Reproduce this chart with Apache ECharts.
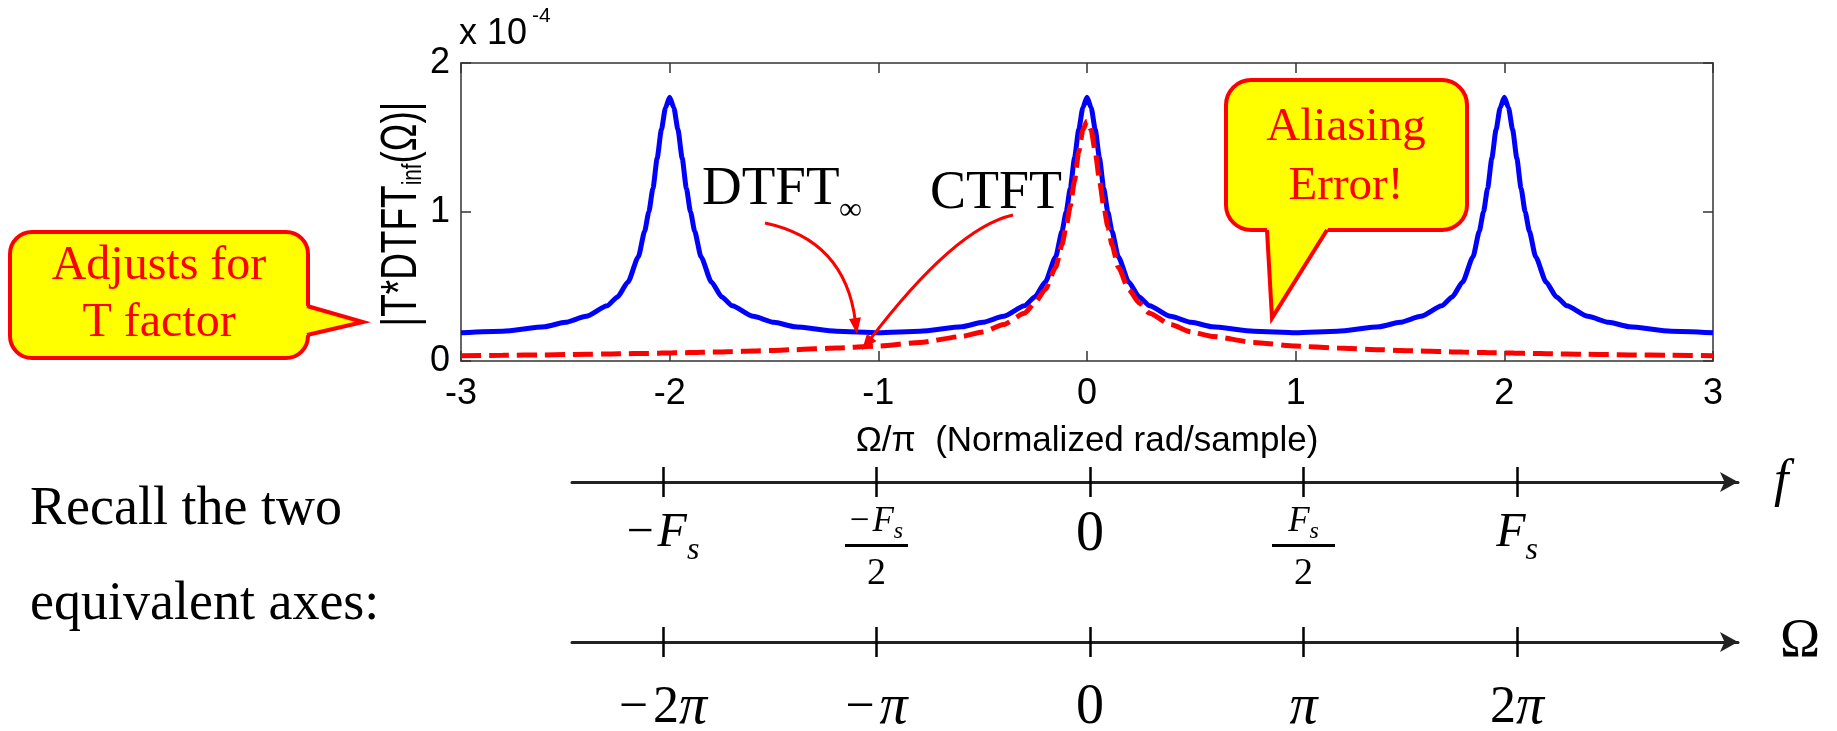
<!DOCTYPE html>
<html><head><meta charset="utf-8">
<script src="https://cdn.jsdelivr.net/npm/echarts@6/dist/echarts.min.js"></script>
<style>html,body{margin:0;padding:0;background:#fff}#c{width:1837px;height:731px}</style>
</head><body><div id="c"></div>
<script>
// ---------------- data ----------------
const omega = [
  -3, -2.8, -2.6, -2.5, -2.4, -2.3, -2.25, -2.2, -2.15, -2.12, -2.1, -2.08, -2.06, -2.04, -2.02,
  -2,
  -1.98, -1.96, -1.94, -1.92, -1.9, -1.88, -1.85, -1.8, -1.75, -1.7, -1.6, -1.5, -1.4, -1.2,
  -1,
  -0.8, -0.6, -0.5, -0.4, -0.3, -0.25, -0.2, -0.15, -0.12, -0.1, -0.08, -0.06, -0.04, -0.02,
  0,
  0.02, 0.04, 0.06, 0.08, 0.1, 0.12, 0.15, 0.2, 0.25, 0.3, 0.4, 0.5, 0.6, 0.8,
  1,
  1.2, 1.4, 1.5, 1.6, 1.7, 1.75, 1.8, 1.85, 1.88, 1.9, 1.92, 1.94, 1.96, 1.98,
  2,
  2.02, 2.04, 2.06, 2.08, 2.1, 2.12, 2.15, 2.2, 2.25, 2.3, 2.4, 2.5, 2.6, 2.8,
  3
];
// |T*DTFT_inf| (x 1e-4), blue
const dtft = [
  0.19, 0.20, 0.23, 0.26, 0.30, 0.37, 0.43, 0.53, 0.70, 0.87, 1.00, 1.16, 1.36, 1.55, 1.70,
  1.77,
  1.70, 1.55, 1.36, 1.16, 1.00, 0.87, 0.70, 0.53, 0.43, 0.37, 0.30, 0.26, 0.23, 0.20,
  0.19,
  0.20, 0.23, 0.26, 0.30, 0.37, 0.43, 0.53, 0.70, 0.87, 1.00, 1.16, 1.36, 1.55, 1.70,
  1.77,
  1.70, 1.55, 1.36, 1.16, 1.00, 0.87, 0.70, 0.53, 0.43, 0.37, 0.30, 0.26, 0.23, 0.20,
  0.19,
  0.20, 0.23, 0.26, 0.30, 0.37, 0.43, 0.53, 0.70, 0.87, 1.00, 1.16, 1.36, 1.55, 1.70,
  1.77,
  1.70, 1.55, 1.36, 1.16, 1.00, 0.87, 0.70, 0.53, 0.43, 0.37, 0.30, 0.26, 0.23, 0.20,
  0.19
];
// CTFT (x 1e-4), red dashed
const ctft = [
  0.036, 0.038, 0.041, 0.043, 0.045, 0.047, 0.048, 0.049, 0.050, 0.051, 0.051, 0.052, 0.052, 0.053, 0.053,
  0.054,
  0.055, 0.055, 0.056, 0.056, 0.057, 0.057, 0.058, 0.060, 0.061, 0.063, 0.067, 0.071, 0.076, 0.087,
  0.100,
  0.125, 0.165, 0.195, 0.245, 0.32, 0.39, 0.48, 0.63, 0.78, 0.90, 1.04, 1.21, 1.40, 1.55,
  1.61,
  1.55, 1.40, 1.21, 1.04, 0.90, 0.78, 0.63, 0.48, 0.39, 0.32, 0.245, 0.195, 0.165, 0.125,
  0.100,
  0.087, 0.076, 0.071, 0.067, 0.063, 0.061, 0.060, 0.058, 0.057, 0.057, 0.056, 0.056, 0.055, 0.055,
  0.054,
  0.053, 0.053, 0.052, 0.052, 0.051, 0.051, 0.050, 0.049, 0.048, 0.047, 0.045, 0.043, 0.041, 0.038,
  0.036
];
const xAxisName = 'Ω/π  (Normalized rad/sample)';
const yAxisNameParts = ['|T*DTFT', 'inf', '(Ω)|'];
const yScaleText = ['x 10', '-4'];
const fTickValues = [-2, -1, 0, 1, 2];
const fTickLabels = ['−F_s', '−F_s/2', '0', 'F_s/2', 'F_s'];
const omegaTickValues = [-2, -1, 0, 1, 2];
const omegaTickLabels = ['−2π', '−π', '0', 'π', '2π'];
const fAxisName = 'f';
const omegaAxisName = 'Ω';
const noteLeft = ['Recall the two', 'equivalent axes:'];
const calloutT = ['Adjusts for', 'T factor'];
const calloutAlias = ['Aliasing', 'Error!'];
const labelDTFT = ['DTFT', '∞'];
const labelCTFT = 'CTFT';

// ---------------- styling ----------------
const SANS = '"Liberation Sans", Arial, sans-serif';
const SERIF = '"Liberation Serif", "Times New Roman", serif';
const BOX = '#333';
const RED = '#FF0000', YEL = '#FFFF00';

function fRich(lbl) {
  if (lbl === '0') return '{z|0}';
  const frac = lbl.endsWith('/2');
  const core = frac ? lbl.slice(0, -2) : lbl;
  const neg = core.startsWith('−');
  const rest = neg ? core.slice(1) : core;
  const [main, sub] = rest.split('_');
  if (!frac) return (neg ? '{m|−}' : '') + '{it|' + main + '}{sub|' + sub + '}';
  return (neg ? '{fm|−}' : '') + '{fit|' + main + '}{fsub|' + sub + '}\n{bar| }\n{fd|2}';
}
function oRich(lbl) {
  if (lbl === '0') return '{z|0}';
  let s = '';
  for (const ch of lbl) {
    if (ch === '−') s += '{m|−}';
    else if (ch === 'π') s += '{p|π}';
    else s += '{d|' + ch + '}';
  }
  return s;
}
const fRichStyles = {
  m: {fontFamily: SERIF, fontSize: 48, lineHeight: 68, verticalAlign: 'middle', color: '#000', padding: [0, 4, 0, 0]},
  it: {fontFamily: SERIF, fontStyle: 'italic', fontSize: 48, lineHeight: 68, verticalAlign: 'middle', color: '#000'},
  sub: {fontFamily: SERIF, fontStyle: 'italic', fontSize: 32, lineHeight: 34, verticalAlign: 'bottom', color: '#000'},
  z: {fontFamily: SERIF, fontSize: 56, lineHeight: 72, verticalAlign: 'middle', color: '#000'},
  fm: {fontFamily: SERIF, fontSize: 35, lineHeight: 45, verticalAlign: 'middle', color: '#000', padding: [0, 3, 0, 0]},
  fit: {fontFamily: SERIF, fontStyle: 'italic', fontSize: 35, lineHeight: 45, verticalAlign: 'middle', color: '#000'},
  fsub: {fontFamily: SERIF, fontStyle: 'italic', fontSize: 24, lineHeight: 18, verticalAlign: 'bottom', color: '#000'},
  bar: {width: 63, height: 3, lineHeight: 3, fontSize: 3, backgroundColor: '#000'},
  fd: {fontFamily: SERIF, fontSize: 38, lineHeight: 55, verticalAlign: 'middle', color: '#000'}
};
const oRichStyles = {
  m: {fontFamily: SERIF, fontSize: 52, lineHeight: 64, verticalAlign: 'middle', color: '#000', padding: [0, 5, 0, 0]},
  d: {fontFamily: SERIF, fontSize: 52, lineHeight: 64, verticalAlign: 'middle', color: '#000'},
  p: {fontFamily: SERIF, fontStyle: 'italic', fontSize: 56, lineHeight: 64, verticalAlign: 'middle', color: '#000'},
  z: {fontFamily: SERIF, fontSize: 56, lineHeight: 64, verticalAlign: 'middle', color: '#000'}
};

function lowerAxes(gridIndex, values, labels, richFn, rich, margin, name, nameStyle, nameGap) {
  const min = -2.426, max = 3.035;
  return [
    {
      gridIndex, type: 'value', position: 'bottom', min, max,
      axisLine: {show: true, onZero: false, symbol: ['none', 'arrow'], symbolSize: [15, 18],
        lineStyle: {color: '#222', width: 3}},
      axisTick: {show: true, inside: false, length: 15, customValues: values, lineStyle: {color: '#000', width: 2.5}},
      axisLabel: {show: true, customValues: values, margin,
        formatter: (v) => richFn(labels[values.indexOf(v)]), rich},
      splitLine: {show: false},
      name, nameLocation: 'end', nameGap, nameTextStyle: nameStyle
    },
    {
      gridIndex, type: 'value', position: 'bottom', min, max,
      axisLine: {show: false},
      axisTick: {show: true, inside: true, length: 15, customValues: values, lineStyle: {color: '#000', width: 2.5}},
      axisLabel: {show: false},
      splitLine: {show: false}
    }
  ];
}

function arrowEls(p0, c, p2, headLen, headHalf) {
  const dx = p2[0] - c[0], dy = p2[1] - c[1];
  const L = Math.hypot(dx, dy), ux = dx / L, uy = dy / L;
  const base = [p2[0] - ux * headLen, p2[1] - uy * headLen];
  const end = [p2[0] - ux * (headLen - 3), p2[1] - uy * (headLen - 3)];
  return [
    {type: 'bezierCurve', z: 100, shape: {x1: p0[0], y1: p0[1], cpx1: c[0], cpy1: c[1], x2: end[0], y2: end[1]},
      style: {stroke: RED, lineWidth: 3, fill: 'none'}},
    {type: 'polygon', z: 100, shape: {points: [p2, [base[0] - uy * headHalf, base[1] + ux * headHalf], [base[0] + uy * headHalf, base[1] - ux * headHalf]]},
      style: {fill: RED}}
  ];
}

const chart = echarts.init(document.getElementById('c'));
const option = {
  animation: false,
  backgroundColor: '#fff',
  grid: [
    {left: 461, right: 124, top: 63, bottom: 370, outerBoundsMode: 'none'},
    {left: 572, right: 99, top: 420, height: 62, outerBoundsMode: 'none'},
    {left: 572, right: 99, top: 580, height: 62, outerBoundsMode: 'none'}
  ],
  xAxis: [
    {
      gridIndex: 0, type: 'value', position: 'bottom', min: -3, max: 3, interval: 1,
      axisLine: {show: true, onZero: false, lineStyle: {color: BOX, width: 1.5}},
      axisTick: {show: true, inside: true, length: 10, lineStyle: {color: BOX, width: 1.5}},
      axisLabel: {show: true, margin: 15, fontSize: 36, fontFamily: SANS, color: '#000'},
      splitLine: {show: false},
      name: xAxisName, nameLocation: 'middle', nameGap: 63,
      nameTextStyle: {fontSize: 35, fontFamily: SANS, color: '#000'}
    },
    {
      gridIndex: 0, type: 'value', position: 'top', min: -3, max: 3, interval: 1,
      axisLine: {show: true, onZero: false, lineStyle: {color: BOX, width: 1.5}},
      axisTick: {show: true, inside: true, length: 10, lineStyle: {color: BOX, width: 1.5}},
      axisLabel: {show: false}, splitLine: {show: false}
    },
    ...lowerAxes(1, fTickValues, fTickLabels, fRich, fRichStyles, 17, fAxisName,
      {fontFamily: SERIF, fontStyle: 'italic', fontSize: 52, color: '#000'}, 36),
    ...lowerAxes(2, omegaTickValues, omegaTickLabels, oRich, oRichStyles, 34, omegaAxisName,
      {fontFamily: SERIF, fontSize: 54, color: '#000'}, 42)
  ],
  yAxis: [
    {
      gridIndex: 0, type: 'value', position: 'left', min: 0, max: 2, interval: 1,
      axisLine: {show: true, onZero: false, lineStyle: {color: BOX, width: 1.5}},
      axisTick: {show: true, inside: true, length: 10, lineStyle: {color: BOX, width: 1.5}},
      axisLabel: {show: true, margin: 11, fontSize: 36, fontFamily: SANS, color: '#000'},
      splitLine: {show: false}
    },
    {
      gridIndex: 0, type: 'value', position: 'right', min: 0, max: 2, interval: 1,
      axisLine: {show: true, onZero: false, lineStyle: {color: BOX, width: 1.5}},
      axisTick: {show: true, inside: true, length: 10, lineStyle: {color: BOX, width: 1.5}},
      axisLabel: {show: false}, splitLine: {show: false}
    },
    {gridIndex: 1, type: 'value', show: false, min: 0, max: 1},
    {gridIndex: 2, type: 'value', show: false, min: 0, max: 1}
  ],
  series: [
    {
      type: 'line', xAxisIndex: 0, yAxisIndex: 0, showSymbol: false, symbol: 'none', z: 2,
      smooth: 0.2, smoothMonotone: 'x',
      data: omega.map((x, i) => [x, dtft[i]]),
      lineStyle: {color: '#0000FF', width: 5}
    },
    {
      type: 'line', xAxisIndex: 0, yAxisIndex: 0, showSymbol: false, symbol: 'none', z: 3,
      smooth: 0.2, smoothMonotone: 'x',
      data: omega.map((x, i) => [x, ctft[i]]),
      lineStyle: {color: RED, width: 5, type: [20, 8]}
    }
  ],
  graphic: [
    // y-axis scale factor
    {type: 'text', x: 459, y: 34, style: {text: yScaleText[0], fontSize: 36, fontFamily: SANS, fill: '#000', align: 'left', verticalAlign: 'middle'}},
    {type: 'text', x: 532, y: 16, style: {text: yScaleText[1], fontSize: 21, fontFamily: SANS, fill: '#000', align: 'left', verticalAlign: 'middle'}},
    // y-axis name (rotated)
    {type: 'text', x: 402, y: 214, rotation: Math.PI / 2, scaleX: 0.74, scaleY: 1,
      style: {
        text: '{a|' + yAxisNameParts[0] + '}{s|' + yAxisNameParts[1] + '}{a|' + yAxisNameParts[2] + '}',
        align: 'center', verticalAlign: 'middle',
        rich: {
          a: {fontSize: 50, fontFamily: SANS, fill: '#000', lineHeight: 50, verticalAlign: 'middle'},
          s: {fontSize: 28, fontFamily: SANS, fill: '#000', lineHeight: 5, verticalAlign: 'bottom'}
        }
      }},
    // Callout: Adjusts for T factor
    {type: 'rect', z: 100, shape: {x: 10, y: 232, width: 298, height: 126, r: 22}, style: {fill: YEL, stroke: RED, lineWidth: 4}},
    {type: 'polygon', z: 101, shape: {points: [[303, 304.9], [363, 322], [303, 335.9]]}, style: {fill: YEL}},
    {type: 'polyline', z: 102, shape: {points: [[307, 306], [363, 322], [307, 335]]}, style: {stroke: RED, lineWidth: 4, fill: 'none', lineJoin: 'miter'}},
    {type: 'text', z: 103, x: 159, y: 295, style: {text: calloutT.join('\n'), align: 'center', verticalAlign: 'middle', fontSize: 48, lineHeight: 57, fontFamily: SERIF, fill: RED}},
    // Callout: Aliasing Error!
    {type: 'rect', z: 100, shape: {x: 1226, y: 80, width: 241, height: 150, r: 25}, style: {fill: YEL, stroke: RED, lineWidth: 4}},
    {type: 'polygon', z: 101, shape: {points: [[1266.8, 226], [1272, 318], [1329.5, 226]]}, style: {fill: YEL}},
    {type: 'polyline', z: 102, shape: {points: [[1267, 230], [1272, 318], [1327, 230]]}, style: {stroke: RED, lineWidth: 4, fill: 'none', lineJoin: 'miter'}},
    {type: 'text', z: 103, x: 1346, y: 157, style: {text: calloutAlias.join('\n'), align: 'center', verticalAlign: 'middle', fontSize: 47, lineHeight: 59, fontFamily: SERIF, fill: RED}},
    // DTFT_inf and CTFT labels
    {type: 'text', z: 100, x: 702, y: 190, style: {text: labelDTFT[0], align: 'left', verticalAlign: 'middle', fontSize: 55, fontFamily: SERIF, fill: '#000'}},
    {type: 'text', z: 100, x: 839, y: 211, style: {text: labelDTFT[1], align: 'left', verticalAlign: 'middle', fontSize: 32, fontFamily: SERIF, fill: '#000'}},
    {type: 'text', z: 100, x: 930, y: 194, style: {text: labelCTFT, align: 'left', verticalAlign: 'middle', fontSize: 54, fontFamily: SERIF, fill: '#000'}},
    ...arrowEls([765, 223], [845, 240], [857, 334], 16, 6),
    ...arrowEls([1013, 215], [955, 228], [862, 350], 16, 6),
    // left note
    {type: 'text', x: 30, y: 557, style: {text: noteLeft.join('\n'), align: 'left', verticalAlign: 'middle', fontSize: 54, lineHeight: 95, fontFamily: SERIF, fill: '#000'}}
  ]
};
chart.setOption(option);
</script></body></html>
